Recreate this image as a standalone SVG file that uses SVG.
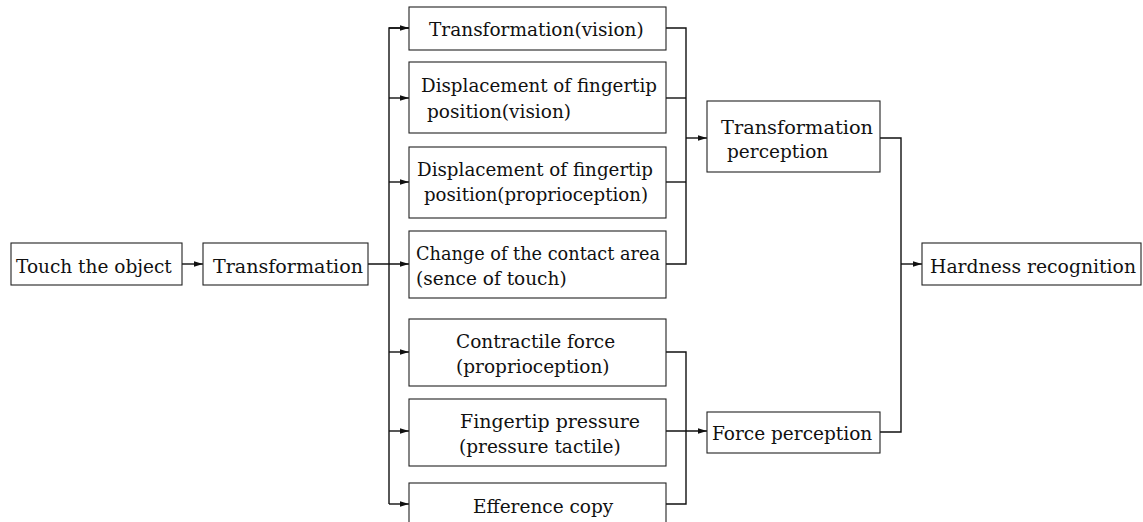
<svg xmlns="http://www.w3.org/2000/svg" width="1143" height="522" viewBox="0 0 1143 522">
<defs>
<marker id="ah" markerUnits="userSpaceOnUse" markerWidth="9" markerHeight="6" refX="9" refY="3" orient="auto">
<path d="M0,0.3 L9,3 L0,5.7 z" fill="#111"/>
</marker>
<style>
.box{fill:#fff;stroke:#222;stroke-width:1.1}
.t{font-family:"DejaVu Serif","Liberation Serif",serif;font-size:18.5px;fill:#111}
.c{fill:none;stroke:#111;stroke-width:1.4}
</style>
</defs>
<rect width="1143" height="522" fill="#fff"/>
<g id="connectors">
<line class="c" x1="182" y1="264" x2="203" y2="264" marker-end="url(#ah)"/>
<line class="c" x1="368" y1="264" x2="409" y2="264" marker-end="url(#ah)"/>
<path class="c" d="M409,28 H389 V504"/>
<line class="c" x1="389" y1="28" x2="409" y2="28" marker-end="url(#ah)"/>
<line class="c" x1="389" y1="98" x2="409" y2="98" marker-end="url(#ah)"/>
<line class="c" x1="389" y1="182" x2="409" y2="182" marker-end="url(#ah)"/>
<line class="c" x1="389" y1="352" x2="409" y2="352" marker-end="url(#ah)"/>
<line class="c" x1="389" y1="431" x2="409" y2="431" marker-end="url(#ah)"/>
<line class="c" x1="389" y1="504" x2="409" y2="504" marker-end="url(#ah)"/>
<path class="c" d="M666,28 H686 V264 H666"/>
<line class="c" x1="666" y1="98" x2="686" y2="98"/>
<line class="c" x1="666" y1="182" x2="686" y2="182"/>
<line class="c" x1="686" y1="138" x2="707" y2="138" marker-end="url(#ah)"/>
<path class="c" d="M666,352 H686 V504 H666"/>
<line class="c" x1="666" y1="431" x2="707" y2="431" marker-end="url(#ah)"/>
<path class="c" d="M880,138 H901 V432 H880"/>
<line class="c" x1="901" y1="264" x2="922" y2="264" marker-end="url(#ah)"/>
</g>
<g id="touch">
<rect class="box" x="11" y="243" width="171" height="42"/>
<text class="t" x="16" y="273">Touch the object</text>
</g>
<g id="transformation">
<rect class="box" x="203" y="243" width="165" height="42"/>
<text class="t" x="213" y="273" textLength="150" lengthAdjust="spacingAndGlyphs">Transformation</text>
</g>
<g id="transformation-vision">
<rect class="box" x="409" y="7" width="257" height="43"/>
<text class="t" x="429" y="36">Transformation(vision)</text>
</g>
<g id="displacement-vision">
<rect class="box" x="409" y="62" width="257" height="71"/>
<text class="t" x="421" y="92" textLength="236" lengthAdjust="spacingAndGlyphs">Displacement of fingertip</text>
<text class="t" x="427" y="118">position(vision)</text>
</g>
<g id="displacement-proprioception">
<rect class="box" x="409" y="147" width="257" height="71"/>
<text class="t" x="417" y="176" textLength="236" lengthAdjust="spacingAndGlyphs">Displacement of fingertip</text>
<text class="t" x="424" y="201" textLength="224" lengthAdjust="spacingAndGlyphs">position(proprioception)</text>
</g>
<g id="contact-area">
<rect class="box" x="409" y="231" width="257" height="67"/>
<text class="t" x="416" y="260" textLength="244" lengthAdjust="spacingAndGlyphs">Change of the contact area</text>
<text class="t" x="416" y="285">(sence of touch)</text>
</g>
<g id="contractile-force">
<rect class="box" x="409" y="319" width="257" height="67"/>
<text class="t" x="456" y="348">Contractile force</text>
<text class="t" x="456" y="373">(proprioception)</text>
</g>
<g id="fingertip-pressure">
<rect class="box" x="409" y="399" width="257" height="67"/>
<text class="t" x="460" y="428" textLength="180" lengthAdjust="spacingAndGlyphs">Fingertip pressure</text>
<text class="t" x="459" y="453">(pressure tactile)</text>
</g>
<g id="efference-copy">
<rect class="box" x="409" y="483" width="257" height="50"/>
<text class="t" x="473" y="513">Efference copy</text>
</g>
<g id="transformation-perception">
<rect class="box" x="707" y="101" width="173" height="71"/>
<text class="t" x="721" y="134" textLength="152" lengthAdjust="spacingAndGlyphs">Transformation</text>
<text class="t" x="727" y="158">perception</text>
</g>
<g id="force-perception">
<rect class="box" x="707" y="412" width="173" height="41"/>
<text class="t" x="712" y="440">Force perception</text>
</g>
<g id="hardness-recognition">
<rect class="box" x="922" y="243" width="219" height="42"/>
<text class="t" x="930" y="273" textLength="206" lengthAdjust="spacingAndGlyphs">Hardness recognition</text>
</g>
</svg>
